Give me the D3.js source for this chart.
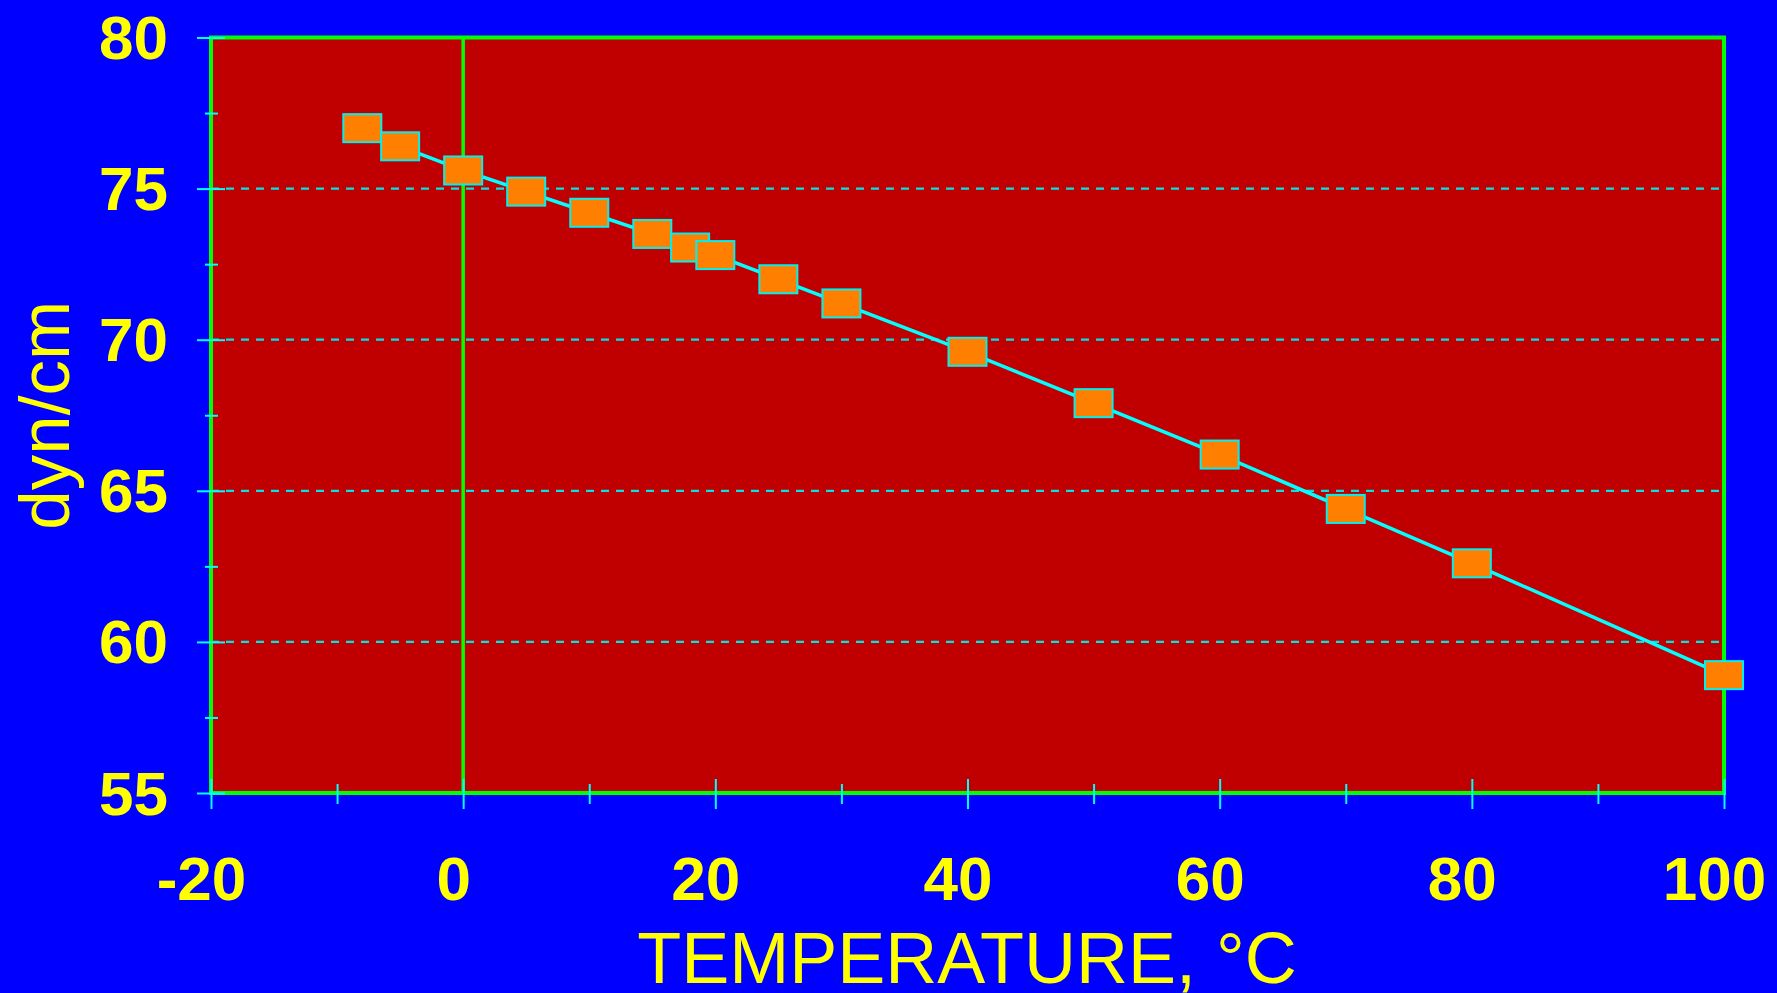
<!DOCTYPE html>
<html>
<head>
<meta charset="utf-8">
<script src="https://cdn.jsdelivr.net/npm/d3@7"></script>
<style>
  html, body { margin: 0; padding: 0; background: #0000ff; overflow: hidden; }
</style>
</head>
<body>
<div id="chart"></div>
<script>
// surface tension of water vs temperature
var temps   = [-8, -5, 0, 5, 10, 15, 18, 20, 25, 30, 40, 50, 60, 70, 80, 100];
var tension = [77.0, 76.4, 75.6, 74.9, 74.2, 73.5, 73.05, 72.8, 72.0, 71.2, 69.6, 67.9, 66.2, 64.4, 62.6, 58.9];

var xTicks = [-20, 0, 20, 40, 60, 80, 100];
var xMinorTicks = [-10, 10, 30, 50, 70, 90];
var yTicks = [55, 60, 65, 70, 75, 80];
var yMinorTicks = [57.5, 62.5, 67.5, 72.5, 77.5];
var gridValues = [60, 65, 70, 75];

var xTitle = 'TEMPERATURE, °C',
    yTitle = 'dyn/cm';

var svgwidth = 1777, svgheight = 993;
var margin = {top: 37.5, right: 53, bottom: 200, left: 211};
var width = 1724 - margin.left,
    height = 793 - margin.top;

var svg = d3.select('#chart')
  .append('svg')
    .attr('width', svgwidth)
    .attr('height', svgheight)
    .style('display', 'block')
    .style('background', '#0000ff');

var x = d3.scaleLinear().domain([-20, 100]).range([0, width]);
var y = d3.scaleLinear().domain([55, 80]).range([height, 0]);

var g = svg.append('g')
  .attr('transform', 'translate(' + margin.left + ',' + margin.top + ')');

// plot area
g.append('rect')
  .attr('width', width)
  .attr('height', height)
  .attr('fill', '#c00000');

// dashed grid
g.selectAll('.grid')
  .data(gridValues)
  .enter().append('line')
    .attr('class', 'grid')
    .attr('x1', 0).attr('x2', width)
    .attr('y1', function(d) { return y(d); })
    .attr('y2', function(d) { return y(d); })
    .attr('stroke', '#00e4e4')
    .attr('stroke-width', 2.2)
    .attr('stroke-dasharray', '8,7');

// green frame + zero line
g.append('rect')
  .attr('width', width)
  .attr('height', height)
  .attr('fill', 'none')
  .attr('stroke', '#00ff00')
  .attr('stroke-width', 4);
g.append('line')
  .attr('x1', x(0)).attr('x2', x(0))
  .attr('y1', 0).attr('y2', height)
  .attr('stroke', '#00ff00')
  .attr('stroke-width', 3.5);

function styleAxis(sel) {
  sel.select('.domain').remove();
  sel.selectAll('line').attr('stroke', '#00ffff').attr('stroke-width', 2);
  sel.selectAll('text')
    .attr('fill', '#ffff00')
    .attr('font-family', '"Liberation Sans", Arial, sans-serif')
    .attr('font-weight', 'bold')
    .attr('font-size', 62);
}

var plain = function(d) { return String(d); };

// x axis, ticks cross the frame
var gX = g.append('g')
  .attr('transform', 'translate(0,' + (height - 14) + ')')
  .call(d3.axisBottom(x).tickValues(xTicks).tickSize(30).tickPadding(47).tickFormat(plain))
  .call(styleAxis);
gX.selectAll('text').attr('dx', -10);

g.append('g')
  .attr('transform', 'translate(0,' + (height - 9) + ')')
  .call(d3.axisBottom(x).tickValues(xMinorTicks).tickSize(20).tickFormat(''))
  .call(styleAxis);

// y axis
var gY = g.append('g')
  .attr('transform', 'translate(14,0)')
  .call(d3.axisLeft(y).tickValues(yTicks).tickSize(28).tickPadding(29).tickFormat(plain))
  .call(styleAxis);
gY.selectAll('text').attr('dy', '0.34em');

g.append('g')
  .attr('transform', 'translate(7,0)')
  .call(d3.axisLeft(y).tickValues(yMinorTicks).tickSize(13).tickFormat(''))
  .call(styleAxis);

// data line + markers
var points = temps.map(function(t, i) { return {t: t, v: tension[i]}; });

var line = d3.line()
  .x(function(d) { return x(d.t); })
  .y(function(d) { return y(d.v); });

g.append('path')
  .datum(points)
  .attr('fill', 'none')
  .attr('stroke', '#00ffff')
  .attr('stroke-width', 3.5)
  .attr('d', line);

var mw = 38, mh = 28;
g.selectAll('.marker')
  .data(points)
  .enter().append('rect')
    .attr('class', 'marker')
    .attr('x', function(d) { return x(d.t) - mw / 2; })
    .attr('y', function(d) { return y(d.v) - mh / 2; })
    .attr('width', mw)
    .attr('height', mh)
    .attr('fill', '#ff8000')
    .attr('stroke', '#00f0f0')
    .attr('stroke-width', 2);

// titles
svg.append('text')
  .attr('x', 967)
  .attr('y', 983)
  .attr('text-anchor', 'middle')
  .attr('fill', '#ffff00')
  .attr('font-family', '"Liberation Sans", Arial, sans-serif')
  .attr('font-size', 72)
  .text(xTitle);

svg.append('text')
  .attr('transform', 'translate(69,' + (margin.top + height / 2) + ') rotate(-90)')
  .attr('text-anchor', 'middle')
  .attr('fill', '#ffff00')
  .attr('font-family', '"Liberation Sans", Arial, sans-serif')
  .attr('font-size', 71)
  .text(yTitle);
</script>
</body>
</html>
